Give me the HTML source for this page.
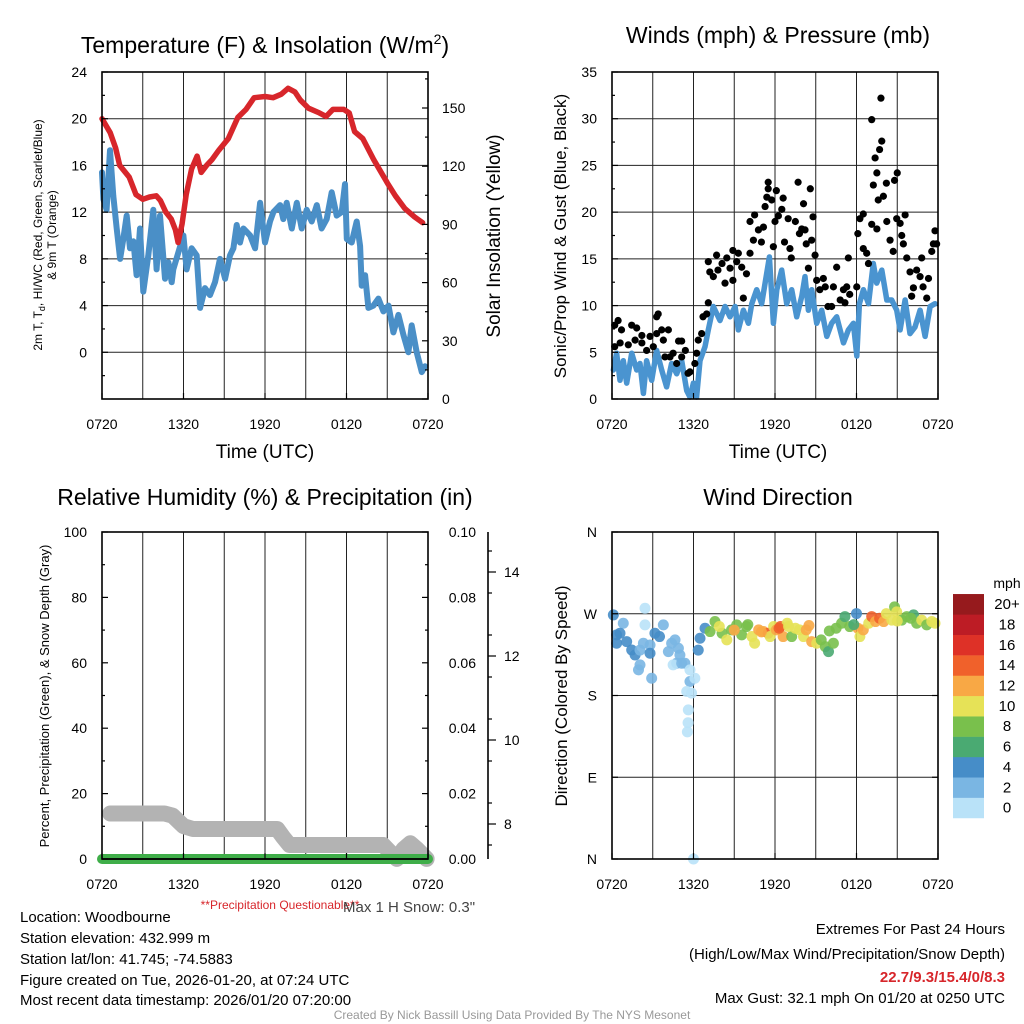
<!DOCTYPE html>
<html><head><meta charset="utf-8"><style>
body{margin:0;background:#fff}
svg{display:block;font-family:"Liberation Sans",Arial,sans-serif}
</style></head><body>
<svg id="fig" width="1024" height="1024" viewBox="0 0 1024 1024" xmlns="http://www.w3.org/2000/svg">
<rect width="1024" height="1024" fill="#fff"/>
<g id="grids"></g><g id="series"></g><g id="axes"></g>
<text x="265" y="53" font-size="23" text-anchor="middle">Temperature (F) &amp; Insolation (W/m<tspan font-size="14" dy="-9">2</tspan><tspan dy="9">)</tspan></text>
<text x="778" y="43" font-size="23" text-anchor="middle">Winds (mph) &amp; Pressure (mb)</text>
<text x="265" y="505" font-size="23" text-anchor="middle">Relative Humidity (%) &amp; Precipitation (in)</text>
<text x="778" y="505" font-size="23" text-anchor="middle">Wind Direction</text>
<text x="265" y="458" font-size="19" text-anchor="middle">Time (UTC)</text>
<text x="778" y="458" font-size="19" text-anchor="middle">Time (UTC)</text>
<text transform="translate(42,235) rotate(-90)" font-size="12" text-anchor="middle">2m T, T<tspan font-size="9" dy="3">d</tspan><tspan dy="-3">, HI/WC (Red, Green, Scarlet/Blue)</tspan></text>
<text transform="translate(56,235) rotate(-90)" font-size="12" text-anchor="middle">&amp; 9m T (Orange)</text>
<text transform="translate(500,236) rotate(-90)" font-size="19" text-anchor="middle">Solar Insolation (Yellow)</text>
<text transform="translate(566,236) rotate(-90)" font-size="17" text-anchor="middle">Sonic/Prop Wind &amp; Gust (Blue, Black)</text>
<text transform="translate(49,696) rotate(-90)" font-size="13" text-anchor="middle">Percent, Precipitation (Green), &amp; Snow Depth (Gray)</text>
<text transform="translate(567,696) rotate(-90)" font-size="17" text-anchor="middle">Direction (Colored By Speed)</text>
<text x="280" y="909" font-size="12" fill="#d7262b" text-anchor="middle">**Precipitation Questionable**</text>
<text x="343" y="912" font-size="15" fill="#444">Max 1 H Snow: 0.3"</text>
<g font-size="15">
<text x="20" y="922">Location: Woodbourne</text>
<text x="20" y="943">Station elevation: 432.999 m</text>
<text x="20" y="964">Station lat/lon: 41.745; -74.5883</text>
<text x="20" y="985">Figure created on Tue, 2026-01-20, at 07:24 UTC</text>
<text x="20" y="1005">Most recent data timestamp: 2026/01/20 07:20:00</text>
</g>
<g font-size="15" text-anchor="end">
<text x="1005" y="934">Extremes For Past 24 Hours</text>
<text x="1005" y="959">(High/Low/Max Wind/Precipitation/Snow Depth)</text>
<text x="1005" y="982" fill="#d7262b" font-weight="bold">22.7/9.3/15.4/0/8.3</text>
<text x="1005" y="1003">Max Gust: 32.1 mph On 01/20 at 0250 UTC</text>
</g>
<text x="512" y="1019" font-size="12" fill="#999" text-anchor="middle">Created By Nick Bassill Using Data Provided By The NYS Mesonet</text>
</svg>
<script>
// ---- data (hours since 0720 UTC) ----
const tempH=[0,0.6,1,1.3,2,2.5,3,3.5,4,4.3,4.7,5.1,5.4,5.6,5.9,6.2,6.6,7,7.3,7.7,8.1,8.6,9.3,10,10.6,11.2,12,12.6,13.2,13.7,14.2,14.6,15.2,16,16.5,17,17.8,18.2,18.6,19.2,20,21,21.6,22.3,23,23.6];
const tempV=[20,18.8,17.5,16,15,13.5,13.1,13.3,13.4,13.0,12,11.4,10.5,9.4,11,13.5,15.7,16.8,15.4,16,16.5,17.3,18.3,20.1,20.8,21.8,21.9,21.8,22.1,22.6,22.3,21.6,20.9,20.5,20.2,20.8,20.8,20.5,18.9,18.3,16.5,14.5,13.4,12.3,11.6,11.1];
const dewH=[0,0.1,0.34,0.59,0.83,1.08,1.33,1.57,1.82,2.06,2.31,2.55,2.8,3.04,3.41,3.78,4.02,4.27,4.64,4.89,5.13,5.25,5.99,6.23,6.6,6.97,7.22,7.58,7.95,8.32,8.69,9.06,9.42,9.67,9.92,10.16,10.41,10.9,11.27,11.64,12.0,12.37,12.62,13.11,13.35,13.6,13.97,14.34,14.7,15.07,15.44,15.81,16.17,16.54,16.91,17.28,17.65,17.89,18.02,18.38,18.75,19.0,19.12,19.37,19.61,19.98,20.35,20.72,21.09,21.45,21.82,22.19,22.56,22.8,23.17,23.54,23.78];
const dewV=[15.4,13.1,12.2,17.3,13.4,10.6,8.0,9.7,11.7,8.9,9.5,6.6,10.6,5.2,8.3,12.2,7.1,11.7,6.3,7.7,6.0,7.1,10.0,7.1,8.9,8.3,3.8,5.5,4.9,6.0,8.0,6.3,8.3,8.9,10.9,9.4,10.6,10.0,8.9,12.8,9.4,11.2,12.0,12.6,11.4,12.8,10.6,12.8,10.6,12.2,11.2,12.6,10.6,11.4,13.7,11.7,12.0,14.4,9.7,9.4,11.2,9.1,5.7,6.6,3.8,4.0,4.6,3.5,4.0,1.7,3.2,1.5,0.0,2.3,0.0,-1.7,-1.2];
const windH=[0.1,0.34,0.59,0.83,1.08,1.45,1.82,2.06,2.31,2.55,2.92,3.29,3.66,4.02,4.39,4.76,5.13,5.5,5.74,5.99,6.23,6.48,6.85,7.09,7.46,7.95,8.32,8.69,9.06,9.3,9.67,10.04,10.29,10.65,11.02,11.27,11.59,11.88,12.13,12.49,12.86,13.23,13.6,13.97,14.21,14.46,14.7,15.07,15.44,15.81,16.17,16.54,17.04,17.4,17.77,18.02,18.21,18.51,18.88,19.24,19.49,19.86,20.23,20.59,20.96,21.21,21.58,21.94,22.31,22.68,23.05,23.42,23.78];
const windV=[3.1,4.9,2.0,4.1,1.7,4.9,3.1,3.8,0.6,4.1,2.0,5.2,3.1,1.3,3.8,2.7,4.1,0.9,0.2,1.7,0.2,4.1,5.6,7.4,9.9,8.4,9.9,8.8,9.9,7.4,9.5,8.1,10.2,11.7,10.2,12.4,15.2,8.1,11.7,13.8,10.2,11.7,8.8,11.0,13.1,9.5,11.7,8.1,9.5,6.7,8.1,8.8,6.0,7.4,8.1,4.6,10.2,11.7,10.2,14.5,12.4,13.8,10.6,10.6,9.5,7.4,10.6,7.0,7.7,9.5,6.7,9.9,10.2];
const gustH=[0.2,0.2,0.45,0.7,0.6,1.2,1.45,1.7,1.82,2.2,2.2,2.55,2.8,3.04,3.29,3.4,3.29,3.66,3.78,3.9,4.15,4.27,4.5,4.76,4.9,5.13,5.13,5.4,5.6,5.74,6.1,6.23,6.35,6.6,6.7,6.97,7.09,7.09,7.2,7.46,7.7,7.8,8.1,8.32,8.45,8.69,8.9,8.9,9.18,9.3,9.55,9.67,9.9,10.16,10.16,10.41,10.5,10.78,11.0,11.15,11.27,11.4,11.5,11.5,11.76,11.88,12.0,12.1,12.25,12.5,12.6,12.7,12.97,13.1,13.2,13.5,13.7,13.8,13.97,14.1,14.21,14.3,14.46,14.6,14.7,14.8,14.95,15.07,15.3,15.56,15.7,15.9,16.17,16.3,16.54,16.8,17.04,17.15,17.28,17.4,17.5,18.02,18.1,18.25,18.5,18.5,18.75,18.88,19.12,19.12,19.24,19.37,19.5,19.5,19.6,19.7,19.8,19.86,19.98,20.2,20.23,20.47,20.7,20.8,20.96,21.0,21.21,21.33,21.45,21.58,21.7,21.94,22.06,22.19,22.43,22.68,22.8,22.9,23.17,23.3,23.54,23.66,23.78,23.9];
const gustV=[5.6,7.9,8.4,7.4,6.0,5.8,7.9,6.3,7.6,6.8,6.0,5.2,6.7,5.6,8.8,9.1,7.0,7.4,6.3,4.5,7.4,4.5,4.9,3.8,6.2,6.2,4.5,5.2,2.75,2.9,3.8,4.9,6.3,7.0,8.8,9.1,10.3,14.7,13.6,13.1,15.4,13.8,14.5,12.4,15.1,14.0,15.9,12.7,14.7,15.6,14.1,10.8,13.4,15.6,19.0,17.0,19.7,18.1,16.8,18.4,20.6,21.6,23.2,22.5,21.3,16.3,19.0,22.3,19.6,20.3,21.5,16.8,19.3,16.1,15.1,19.0,23.2,17.7,18.2,20.9,18.1,16.6,14.0,22.5,17.0,19.5,15.4,12.7,11.7,12.9,12.0,9.9,9.9,12.0,14.1,10.6,11.7,10.3,12.0,15.1,11.2,12.0,17.7,19.3,19.8,16.1,15.6,14.5,18.7,29.9,22.9,25.8,18.2,24.2,21.3,26.7,32.2,27.6,21.7,23.1,19.0,17.0,15.8,23.4,19.3,24.2,18.8,17.5,16.6,19.7,15.1,13.6,11.0,11.9,13.8,13.1,15.1,12.0,10.8,12.9,15.8,16.6,18.0,16.6];
const snowH=[0.6,4.6,5.2,6.0,6.7,12.9,13.3,13.8,20.7,21.3,21.7,22.2,22.7,23.2,23.9];
const snowV=[8.25,8.25,8.2,7.95,7.88,7.88,7.7,7.5,7.5,7.3,7.17,7.4,7.54,7.4,7.17];
const precipH=[0,24];
const precipV=[0,0];
const dirH=[0.1,0.83,2.43,2.43,0.34,0.59,0.34,1.08,1.45,1.7,2.06,2.31,2.8,2.8,2.06,1.95,3.16,3.5,3.78,4.15,4.39,4.64,4.89,5.0,4.76,4.5,5.13,5.37,2.92,5.74,5.74,6.1,5.5,5.86,5.62,5.6,5.55,6.0,6.35,6.48,6.85,7.22,7.58,8.1,8.45,8.8,9.18,9.55,9.9,10.3,10.5,10.8,11.15,11.5,11.64,11.9,12.1,12.4,12.6,12.9,13.23,13.5,13.8,14.1,14.3,14.7,15.07,15.4,15.7,15.94,16.3,16.5,16.9,17.15,17.5,18.0,18.1,18.25,18.5,18.9,19.12,19.4,19.7,20.0,20.2,20.6,20.8,20.96,21.33,21.7,22.2,22.43,22.8,23.17,23.54,23.78,7.9,9.0,10.0,11.0,12.3,13.0,14.5,16.0,17.8,21.0,22.0];
const dirV=[268.7,259.5,276,257.7,246.7,248.5,237.5,239.3,230.1,224.6,230,237.5,235.6,226.5,213.7,208.2,248.5,244.9,257.7,228.3,237.5,241.2,232,224.6,215.5,213.7,215.5,215.5,199,208.2,195.4,199,184.4,182.6,164.2,150,140,0,230,243,254,250.4,261.4,248.5,241.2,252.2,257.7,246.7,255.9,244.9,237.5,252.2,250.4,248.5,244.9,255.9,252.2,255.9,244.9,259.5,244.9,254,252.2,244.9,252.2,239.3,237.5,241.2,233.8,228.3,237.5,254,259.5,266.9,255.9,270.2,254,244.9,252.2,259.5,266.9,261.4,265,261.4,270.2,263,277.6,272,263,266.9,268.7,259.5,263,257.7,261.4,259.5,256,252,258,250,254,256,257,251,258,262,265];
const dirS=[4,2,1,1,4,4,4,4,4,4,3,2,3,4,2,2,4,4,2,3,2,2,2,2,2,1,2,2,2,1,2,1,1,1,1,1,1,1,4,4,4,8,8,9,10,8,9,8,9,10,10,12,12,14,10,10,12,15,12,10,8,10,10,10,12,12,10,8,8,6,8,8,8,6,8,4,12,10,12,10,14,12,15,13,10,10,8,10,8,8,6,8,10,8,10,10,10,12,8,12,14,10,12,8,7,10,8];
const tempTicks=[24,20,16,12,8,4,0];
const insolTicks=[0,30,60,90,120,150];
const windTicks=[0,5,10,15,20,25,30,35];
const rhTicks=[0,20,40,60,80,100];
const precipTicks=["0.00","0.02","0.04","0.06","0.08","0.10"];
const snowTicks=[8,10,12,14];
const dirTicks=["N","E","S","W","N"];
const timeLabels=["0720","1320","1920","0120","0720"];
const speedBins=["0","2","4","6","8","10","12","14","16","18","20+"];
const speedColors=["#b9e2f8","#7ab6e3","#468dc8","#4aaa72","#79c04c","#e6e257","#f8a845","#f0612b","#de3127","#bd1c25","#961a1d"];

const NS='http://www.w3.org/2000/svg';
const G=document.getElementById('grids'),S=document.getElementById('series'),A=document.getElementById('axes');
function mk(t,a,p){const e=document.createElementNS(NS,t);for(const k in a)e.setAttribute(k,a[k]);p.appendChild(e);return e;}
const P1={L:102,R:428,T:72,B:399,y0:-4,y1:24};
const P2={L:612,R:938,T:72,B:399,y0:0,y1:35};
const P3={L:102,R:428,T:532,B:859,y0:0,y1:100};
const P4={L:612,R:938,T:532,B:859,y0:0,y1:360};
const xs=(P,h)=>P.L+h/24*(P.R-P.L);
const ys=(P,v)=>P.B-(v-P.y0)/(P.y1-P.y0)*(P.B-P.T);
const ySnow=s=>824-(s-8)*42;
const yPrec=v=>P3.B-v/0.1*(P3.B-P3.T);

function frame(P,name,hgrid){
  for(let i=1;i<8;i++){const x=xs(P,i*3);
    const l=mk('line',{x1:x,x2:x,y1:P.T,y2:P.B,stroke:'#222','stroke-width':1},G);
    
    }
  hgrid.forEach(v=>{const y=ys(P,v);
    const l=mk('line',{x1:P.L,x2:P.R,y1:y,y2:y,stroke:'#222','stroke-width':1},G);
    
    });
  const r=mk('rect',{x:P.L,y:P.T,width:P.R-P.L,height:P.B-P.T,fill:'none',stroke:'#000','stroke-width':1.6},A);
  
  
  timeLabels.forEach((t,i)=>{const x=xs(P,i*6);
    const tx=mk('text',{x:x,y:P.B+30,'font-size':14,'text-anchor':'middle'},A);tx.textContent=t;
    
    
    mk('line',{x1:x,x2:x,y1:P.B,y2:P.B-6,stroke:'#000','stroke-width':1.2},A);});
}
function ylab(x,y,t,name,anchor){const tx=mk('text',{x:x,y:y+5,'font-size':14,'text-anchor':anchor||'end'},A);tx.textContent=t;
  
  }
function tick(x,y,len){mk('line',{x1:x,x2:x+len,y1:y,y2:y,stroke:'#000','stroke-width':1.2},A);}
function path(pts,attrs,name){const d=pts.map((p,i)=>(i?'L':'M')+p[0].toFixed(1)+','+p[1].toFixed(1)).join('');
  const e=mk('path',Object.assign({d:d,fill:'none','stroke-linejoin':'round','stroke-linecap':'round'},attrs),S);
  
  return e;}

// Panel 1
frame(P1,'temp',[20,16,12,8,4,0]);
tempTicks.forEach(v=>{ylab(P1.L-15,ys(P1,v),v,'temp-y-tick-label');tick(P1.L,ys(P1,v),6);tick(P1.L,ys(P1,v-2),3);});
insolTicks.forEach(v=>{const y=P1.B-v*1.94;ylab(P1.R+14,y,v,'insolation-tick-label','start');tick(P1.R,y,-6);tick(P1.R,y-29.1,-3);});
path(dewH.map((h,i)=>[xs(P1,h),ys(P1,dewV[i])]),{stroke:'#4a8fc7','stroke-width':6},'dewpoint-line');
path(tempH.map((h,i)=>[xs(P1,h),ys(P1,tempV[i])]),{stroke:'#d7262b','stroke-width':5.5},'temperature-line');

// Panel 2
frame(P2,'wind',[5,10,15,20,25,30]);
windTicks.forEach(v=>{ylab(P2.L-15,ys(P2,v),v,'wind-y-tick-label');tick(P2.L,ys(P2,v),6);if(v<35)tick(P2.L,ys(P2,v+2.5),3);});
path(windH.map((h,i)=>[xs(P2,h),ys(P2,windV[i])]),{stroke:'#4a94d0','stroke-width':5.5},'sonic-wind-line');
gustH.forEach((h,i)=>{const c=mk('circle',{cx:xs(P2,h),cy:ys(P2,gustV[i]),r:3.6,fill:'#000'},S);
  
  });

// Panel 3
frame(P3,'rh',[]);
rhTicks.forEach(v=>{ylab(P3.L-15,ys(P3,v),v,'rh-y-tick-label');tick(P3.L,ys(P3,v),6);if(v<100)tick(P3.L,ys(P3,v+10),3);});
precipTicks.forEach((t,i)=>{const y=yPrec(i*0.02);ylab(P3.R+48,y,t,'precip-tick-label');tick(P3.R,y,-6);if(i<5)tick(P3.R,y-32.7,-3);});
const sa=mk('line',{x1:488,x2:488,y1:P3.T,y2:P3.B,stroke:'#000','stroke-width':1.6},A);


snowTicks.forEach(s=>{const y=ySnow(s);ylab(504,y,s,'snow-tick-label','start');tick(488,y,8);});
for(let s=7.5;s<15;s+=1){if(ySnow(s)>=P3.T)tick(488,ySnow(s),4);}
path(snowH.map((h,i)=>[xs(P3,h),ySnow(snowV[i])]),{stroke:'#b3b3b3','stroke-width':16},'snow-depth-line');
path(precipH.map((h,i)=>[xs(P3,h),yPrec(precipV[i])]),{stroke:'#3fae49','stroke-width':10},'precip-line');
mk('line',{x1:P3.L,x2:P3.R,y1:P3.B,y2:P3.B,stroke:'#000','stroke-width':1.6},A);

// Panel 4
frame(P4,'wdir',[90,180,270]);
dirTicks.forEach((t,i)=>{const y=ys(P4,i*90);ylab(P4.L-15,y,t,'wdir-y-tick-label');tick(P4.L,y,6);tick(P4.R,y,-6);});
dirH.forEach((h,i)=>{const b=Math.min(10,Math.floor(dirS[i]/2));
  const c=mk('circle',{cx:xs(P4,h),cy:ys(P4,dirV[i]),r:5.5,fill:speedColors[b],'fill-opacity':0.9},S);
  
  });

// colorbar
const mph=mk('text',{x:1007,y:588,'font-size':14,'text-anchor':'middle'},A);mph.textContent='mph';


speedBins.forEach((t,i)=>{const y=818-(i+1)*20.36;
  const r=mk('rect',{x:953,y:y,width:31,height:20.6,fill:speedColors[i]},A);
  
  
  const tx=mk('text',{x:1007,y:y+15,'font-size':15,'text-anchor':'middle'},A);tx.textContent=t;
  
  });
</script>
</body></html>
